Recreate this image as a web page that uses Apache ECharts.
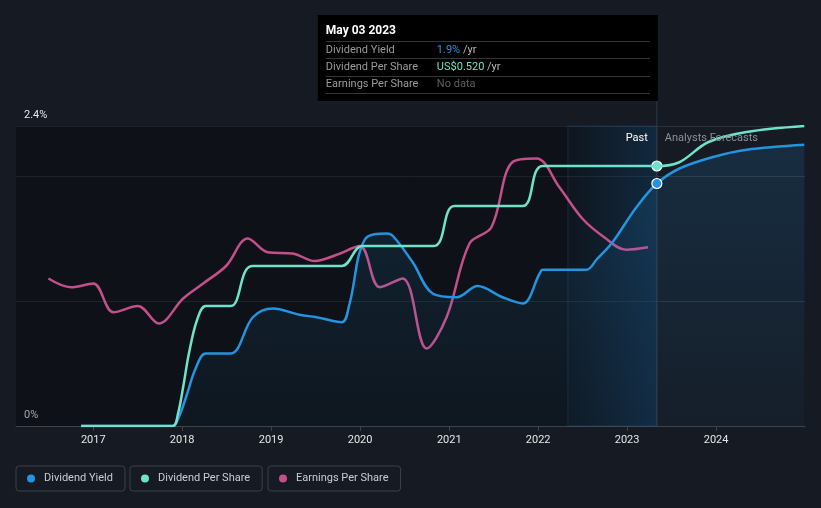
<!DOCTYPE html>
<html>
<head>
<meta charset="utf-8">
<script src="https://cdn.jsdelivr.net/npm/echarts@6.0.0/dist/echarts.min.js"></script>
<style>
  html, body { margin: 0; padding: 0; background: #151a23; }
  #chart { width: 821px; height: 508px; }
</style>
</head>
<body>
<div id="chart"></div>
<script>
// dividend yield, % per year
const yieldDates = ['2016-11-12', '2017-06-01', '2017-11-23', '2017-12-20', '2018-01-20', '2018-02-25', '2018-04-08',
  '2018-07-19', '2018-10-18', '2019-01-08', '2019-04-28', '2019-07-07', '2019-10-18', '2019-11-19', '2020-01-20',
  '2020-04-20', '2020-05-15', '2020-08-04', '2020-10-25', '2021-02-01', '2021-04-27', '2021-08-08', '2021-10-29',
  '2022-01-07', '2022-01-19', '2022-07-18', '2022-08-28', '2022-11-02', '2023-02-08', '2023-05-03', '2023-08-04',
  '2023-12-16', '2024-05-05', '2024-12-28'];
const yieldValues = [0, 0, 0, 0.08, 0.25, 0.46, 0.58,
  0.58, 0.87, 0.94, 0.89, 0.87, 0.83, 0.98, 1.49,
  1.54, 1.52, 1.31, 1.06, 1.03, 1.12, 1.03, 0.98,
  1.22, 1.25, 1.25, 1.33, 1.47, 1.75, 1.94, 2.06,
  2.15, 2.21, 2.25];

// dividend per share, US$
const dpsDates = ['2016-11-12', '2017-06-01', '2017-11-23', '2017-12-15', '2018-01-05', '2018-01-29', '2018-03-03',
  '2018-04-08', '2018-07-20', '2018-10-15', '2019-10-18', '2020-01-10', '2020-10-30', '2021-01-22', '2021-10-29',
  '2022-01-19', '2023-05-03', '2023-08-01', '2023-12-01', '2024-05-05', '2024-12-28'];
const dpsValues = [0, 0, 0, 0.025, 0.078, 0.146, 0.212,
  0.24, 0.24, 0.32, 0.32, 0.36, 0.36, 0.44, 0.44,
  0.52, 0.52, 0.527, 0.568, 0.588, 0.6];

// earnings per share (relative scale, hidden axis)
const epsDates = ['2016-07-01', '2016-10-02', '2017-01-01', '2017-03-25', '2017-07-03', '2017-09-27', '2018-01-05',
  '2018-03-28', '2018-06-30', '2018-09-27', '2018-12-18', '2019-03-31', '2019-06-29', '2019-09-27', '2019-12-31',
  '2020-03-22', '2020-06-24', '2020-09-30', '2020-12-21', '2021-03-25', '2021-06-23', '2021-09-17', '2021-12-25',
  '2022-03-29', '2022-07-01', '2022-09-29', '2022-12-28', '2023-03-28'];
const epsValues = [1.18, 1.11, 1.14, 0.91, 0.96, 0.82, 1.02, 1.14, 1.28, 1.50, 1.39, 1.38, 1.32, 1.37, 1.44,
  1.11, 1.18, 0.62, 0.87, 1.46, 1.59, 2.11, 2.14, 1.91, 1.66, 1.51, 1.41, 1.43];

const yearTicks = [2017, 2018, 2019, 2020, 2021, 2022, 2023, 2024];
const tipDate = '2023-05-03';
const bandStart = '2022-05-03';
const tipYield = 1.94;
const tipDps = 0.52;

const BLUE = '#2394df';
const TEAL = '#6ee3c9';
const PINK = '#c54f8b';
const FONT = 'Roboto, sans-serif';

const ts = (s) => { const p = s.split('-').map(Number); return new Date(p[0], p[1] - 1, p[2]).getTime(); };
const pairs = (d, v) => d.map((x, i) => [ts(x), v[i]]);
const xMin = ts('2016-02-19');
const xMax = ts('2024-12-31');
const tickTs = yearTicks.map(y => new Date(y, 0, 1).getTime());

const chart = echarts.init(document.getElementById('chart'));

const legendBase = {
  top: 466, icon: 'circle', itemWidth: 8, itemHeight: 8,
  borderColor: '#3b404a', borderWidth: 1, borderRadius: 3, padding: [7, 12, 7, 11],
  selectedMode: false,
  textStyle: { color: '#c9cdd3', fontSize: 11, fontFamily: FONT, padding: [0, 0, 0, 4] },
};

const option = {
  backgroundColor: '#151a23',
  animation: false,
  grid: { left: 16, right: 16, top: 126, bottom: 82 },
  legend: [
    { ...legendBase, left: 16, data: ['Dividend Yield'] },
    { ...legendBase, left: 130, data: ['Dividend Per Share'] },
    { ...legendBase, left: 268, data: ['Earnings Per Share'] },
  ],
  xAxis: {
    // timestamps on a plain value scale, ticks at each 1 January
    type: 'value', min: xMin, max: xMax,
    axisLine: { lineStyle: { color: '#3d434d' } },
    axisTick: { show: true, customValues: tickTs, length: 5, lineStyle: { color: '#3d434d' } },
    axisLabel: {
      customValues: tickTs, color: '#e6e6e6', fontSize: 11, fontFamily: FONT, margin: 9,
      formatter: (v) => String(new Date(v).getFullYear()),
    },
    splitLine: { show: false },
  },
  yAxis: [
    {
      type: 'value', min: 0, max: 2.4, interval: 1,
      axisLine: { show: false }, axisTick: { show: false },
      splitLine: { lineStyle: { color: '#2c313b' } },
      axisLabel: {
        inside: true, margin: 8, color: '#e6e6e6', fontSize: 11, fontFamily: FONT,
        verticalAlign: 'bottom', padding: [0, 0, 5, 0],
        formatter: (v) => (v === 0 ? '0%' : (v === 2.4 ? '2.4%' : '')),
      },
    },
    { type: 'value', min: 0, max: 0.6, show: false },
    { type: 'value', min: 0, max: 2.4, show: false },
  ],
  series: [
    {
      name: 'Dividend Yield', type: 'line', yAxisIndex: 0, z: 4,
      data: pairs(yieldDates, yieldValues),
      smooth: 0.35, symbol: 'none',
      lineStyle: { color: BLUE, width: 2.5 }, itemStyle: { color: BLUE },
      areaStyle: {
        color: new echarts.graphic.LinearGradient(0, 0, 0, 1, [
          { offset: 0, color: 'rgba(35,148,223,0.22)' },
          { offset: 1, color: 'rgba(35,148,223,0.05)' },
        ]),
      },
      markArea: {
        silent: true,
        data: [
          [{ xAxis: xMin, itemStyle: { color: 'rgba(0,0,0,0.3)' } }, { xAxis: ts(tipDate) }],
          [{
            xAxis: ts(bandStart),
            itemStyle: {
              color: new echarts.graphic.LinearGradient(0, 0, 1, 0, [
                { offset: 0, color: 'rgba(30,120,200,0.04)' },
                { offset: 1, color: 'rgba(30,120,200,0.22)' },
              ]),
              borderColor: 'rgba(60,110,160,0.25)', borderWidth: 1,
            },
          }, { xAxis: ts(tipDate) }],
        ],
      },
      markPoint: {
        silent: true, symbol: 'circle', symbolSize: 10, label: { show: false },
        itemStyle: { color: BLUE, borderColor: '#ffffff', borderWidth: 1.2 },
        data: [{ coord: [ts(tipDate), tipYield] }],
      },
    },
    {
      name: 'Dividend Per Share', type: 'line', yAxisIndex: 1, z: 5,
      data: pairs(dpsDates, dpsValues),
      smooth: 0.35, symbol: 'none',
      lineStyle: { color: TEAL, width: 2.5 }, itemStyle: { color: TEAL },
      markPoint: {
        silent: true, symbol: 'circle', symbolSize: 10, label: { show: false },
        itemStyle: { color: TEAL, borderColor: '#ffffff', borderWidth: 1.2 },
        data: [{ coord: [ts(tipDate), tipDps] }],
      },
    },
    {
      name: 'Earnings Per Share', type: 'line', yAxisIndex: 2, z: 3,
      data: pairs(epsDates, epsValues),
      smooth: 0.35, symbol: 'none',
      lineStyle: { color: PINK, width: 2.5 }, itemStyle: { color: PINK },
    },
  ],
};

chart.setOption(option);

// tooltip-like box and past / forecast labels, placed from the axis scale
const px = chart.convertToPixel({ xAxisIndex: 0 }, ts(tipDate));
const yTop = chart.convertToPixel({ yAxisIndex: 0 }, 2.4);
const yBase = chart.convertToPixel({ yAxisIndex: 0 }, 0);
const boxW = 340, boxTop = 15, boxH = 86;
const bx = px + 1 - boxW;
const lx = bx + 8, vx = bx + 119;
const divider = (y) => ({
  type: 'line', z: 20, shape: { x1: lx, y1: y, x2: px - 7, y2: y },
  style: { stroke: '#333639', lineWidth: 1 },
});
const label = (y, t) => ({
  type: 'text', z: 21, x: lx, y: y,
  style: { text: t, fill: '#9b9b9b', font: '11px ' + FONT, verticalAlign: 'middle' },
});

chart.setOption({
  graphic: [
    { type: 'line', z: 1, shape: { x1: px, y1: boxTop + boxH, x2: px, y2: yBase },
      style: { stroke: '#2b3a4c', lineWidth: 1 } },
    { type: 'rect', z: 20, shape: { x: bx, y: boxTop, width: boxW, height: boxH }, style: { fill: '#000000' } },
    { type: 'text', z: 21, x: lx, y: 31,
      style: { text: 'May 03 2023', fill: '#ffffff', font: 'bold 12px ' + FONT, verticalAlign: 'middle' } },
    divider(41.5), divider(58.5), divider(76.5), divider(93.5),
    label(50, 'Dividend Yield'),
    label(67, 'Dividend Per Share'),
    label(84.5, 'Earnings Per Share'),
    { type: 'text', z: 21, x: vx, y: 50,
      style: { text: '{a|1.9%} {b|/yr}', verticalAlign: 'middle', font: '11px ' + FONT,
        rich: { a: { fill: BLUE, font: '11px ' + FONT }, b: { fill: '#b8b8b8', font: '11px ' + FONT } } } },
    { type: 'text', z: 21, x: vx, y: 67,
      style: { text: '{a|US$0.520} {b|/yr}', verticalAlign: 'middle', font: '11px ' + FONT,
        rich: { a: { fill: TEAL, font: '11px ' + FONT }, b: { fill: '#b8b8b8', font: '11px ' + FONT } } } },
    { type: 'text', z: 21, x: vx, y: 84.5,
      style: { text: 'No data', fill: '#5e5e5e', font: '11px ' + FONT, verticalAlign: 'middle' } },
    { type: 'text', z: 21, x: px - 9, y: yTop + 12,
      style: { text: 'Past', fill: '#ffffff', font: '11px ' + FONT, align: 'right', verticalAlign: 'middle' } },
    { type: 'text', z: 21, x: px + 8, y: yTop + 12,
      style: { text: 'Analysts Forecasts', fill: '#8b9099', font: '11px ' + FONT, align: 'left', verticalAlign: 'middle' } },
  ],
});
</script>
</body>
</html>
